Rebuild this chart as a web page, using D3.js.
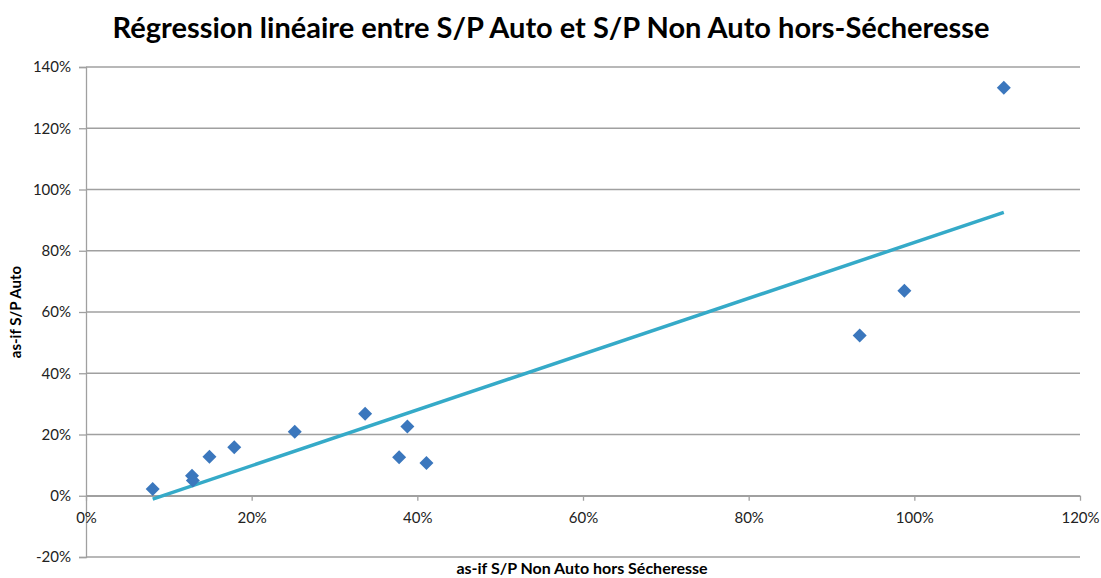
<!DOCTYPE html>
<html lang="fr">
<head>
<meta charset="UTF-8">
<title>Régression linéaire</title>
<script src="https://cdn.jsdelivr.net/npm/d3@7"></script>
<style>
  body { margin: 0; background: #fff; }
  text { font-family: Lato, "Open Sans", sans-serif; }
</style>
</head>
<body>
<script>
    // as-if S/P values, in %
    var spNonAuto = [8.05, 12.8, 12.9, 14.9, 17.9, 25.2, 33.7, 38.8, 37.8, 41.1, 110.8, 98.8, 93.4];
    var spAuto    = [2.2, 6.5, 5.0, 12.7, 15.8, 20.9, 26.8, 22.6, 12.6, 10.7, 133.2, 66.9, 52.3];
    var xTicks = [0, 20, 40, 60, 80, 100, 120];
    var yTicks = [-20, 0, 20, 40, 60, 80, 100, 120, 140];

    var width = 1101, height = 578;
    var plotL = 86, plotR = 1080, plotT = 67, plotB = 557;

    var svg = d3.select("body").append("svg").attr("width", width).attr("height", height);

    var x = d3.scaleLinear().domain([0, 120]).range([plotL, plotR]);
    var y = d3.scaleLinear().domain([-20, 140]).range([plotB, plotT]);

    // gridlines
    svg.selectAll("line.grid").data(yTicks).enter().append("line")
        .attr("class", "grid")
        .attr("x1", plotL).attr("x2", plotR)
        .attr("y1", function(d){ return y(d); }).attr("y2", function(d){ return y(d); })
        .attr("stroke", "#a0a0a0").attr("stroke-width", 1.3);

    // y axis
    var yAxis = svg.append("g").attr("transform", "translate(" + plotL + ",0)")
        .call(d3.axisLeft(y).tickValues(yTicks).tickSize(7).tickPadding(8).tickFormat(function(d){ return d + "%"; }));
    // x axis at 0%
    var xAxis = svg.append("g").attr("transform", "translate(0," + y(0) + ")")
        .call(d3.axisBottom(x).tickValues(xTicks).tickSize(5).tickPadding(12).tickSizeOuter(0).tickFormat(function(d){ return d + "%"; }));

    [yAxis, xAxis].forEach(function(a){
        a.select(".domain").attr("stroke", "#a0a0a0").attr("stroke-width", 1.3);
        a.selectAll(".tick line").attr("stroke", "#a0a0a0").attr("stroke-width", 1.3);
        a.selectAll("text").attr("fill", "#222").style("font-size", "15px").style("font-family", "Lato, sans-serif");
    });

    // linear regression
    var n = spNonAuto.length;
    var mx = d3.mean(spNonAuto), my = d3.mean(spAuto);
    var sxy = 0, sxx = 0;
    for (var i = 0; i < n; i++) {
        sxy += (spNonAuto[i] - mx) * (spAuto[i] - my);
        sxx += (spNonAuto[i] - mx) * (spNonAuto[i] - mx);
    }
    var slope = sxy / sxx, intercept = my - slope * mx;
    var x0 = d3.min(spNonAuto), x1 = d3.max(spNonAuto);

    svg.append("line")
        .attr("x1", x(x0)).attr("y1", y(slope * x0 + intercept))
        .attr("x2", x(x1)).attr("y2", y(slope * x1 + intercept))
        .attr("stroke", "#35aac8").attr("stroke-width", 3.5);

    // points
    var pts = d3.zip(spNonAuto, spAuto);
    svg.selectAll("path.pt").data(pts).enter().append("path")
        .attr("class", "pt")
        .attr("d", d3.symbol().type(d3.symbolSquare).size(98))
        .attr("transform", function(d){ return "translate(" + x(d[0]) + "," + y(d[1]) + ") rotate(45)"; })
        .attr("fill", "#3b77bd");

    // titles
    svg.append("text").attr("x", 551).attr("y", 38).attr("text-anchor", "middle")
        .style("font-size", "29px").style("font-weight", "bold").attr("fill", "#000")
        .text("Régression linéaire entre S/P Auto et S/P Non Auto hors-Sécheresse");

    svg.append("text").attr("x", 582).attr("y", 574).attr("text-anchor", "middle")
        .style("font-size", "16px").style("font-weight", "bold").attr("fill", "#000")
        .text("as-if S/P Non Auto hors Sécheresse");

    svg.append("text").attr("transform", "translate(21,312) rotate(-90)").attr("text-anchor", "middle")
        .style("font-size", "15px").style("font-weight", "bold").attr("fill", "#000")
        .text("as-if S/P Auto");
</script>
</body>
</html>
